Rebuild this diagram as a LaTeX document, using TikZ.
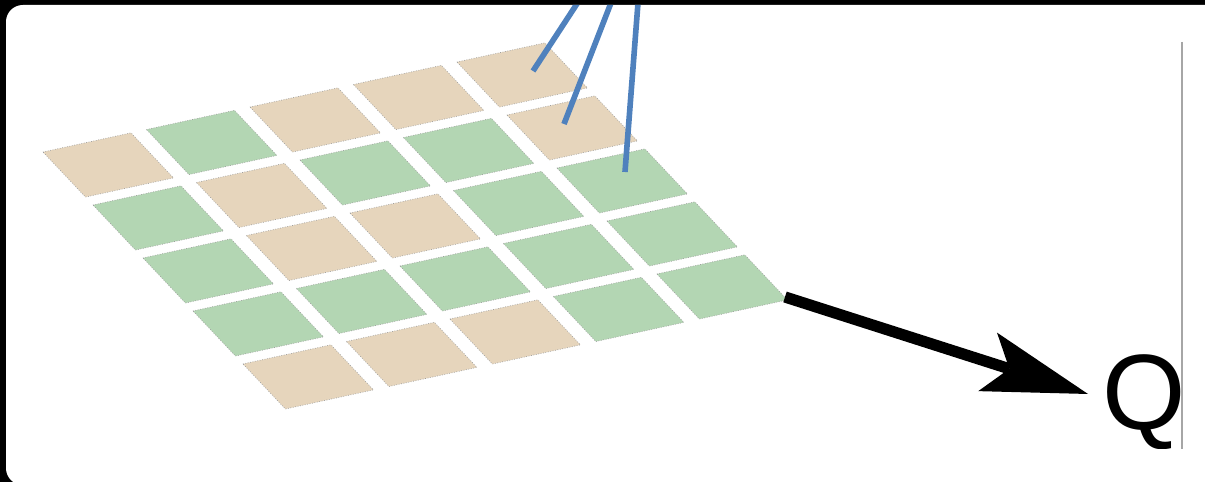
\documentclass[tikz,border=0pt]{standalone}
\usepackage{fontspec}
\setmainfont{Liberation Sans}
\usetikzlibrary{arrows.meta}
\definecolor{tilesand}{RGB}{230, 213, 188}
\definecolor{tilegreen}{RGB}{179, 214, 179}
\definecolor{probeblue}{RGB}{79, 129, 189}

\begin{document}
\begin{tikzpicture}[
    x=0.02cm, y=-0.02cm,
    tile/.style={fill=#1, draw=gray!75, densely dotted, line width=0.4pt},
    probe/.style={probeblue, line width=3.2pt},
    output/.style={line width=6.4pt, -{Stealth[length=60pt, width=35pt, inset=13pt, line width=0pt]}}
]
    \useasboundingbox (0,0) rectangle (1205,482);

    % Frame
    \fill[black] (0,0) rectangle (1205,482);
    \fill[white, rounded corners=9.6pt] (6,5) rectangle (1230,485);

    \begin{scope}
    \clip[rounded corners=9.6pt] (6,5) rectangle (1230,485);

    % Tiles (rows top to bottom)
    \begin{scope}[shift={(43,152)}, x={(2.07cm,0.45cm)}, y={(1cm,-1.06cm)}]
        \foreach \r/\row in {0/{sand,green,sand,sand,sand},
                             1/{green,sand,green,green,sand},
                             2/{green,sand,sand,green,green},
                             3/{green,green,green,green,green},
                             4/{sand,sand,sand,green,green}}
            \foreach \col [count=\c from 0] in \row
                \draw[tile=tile\col] (\c,\r) -- ++(0.85,0) -- ++(0,0.85) -- ++(-0.85,0) -- cycle;
    \end{scope}

    % Coordinates
    \coordinate (probe1_top) at (586,-10);
    \coordinate (probe1_end) at (533,71);
    \coordinate (probe2_top) at (616,-10);
    \coordinate (probe2_end) at (564,124);
    \coordinate (probe3_top) at (639,-10);
    \coordinate (probe3_end) at (625,172);
    \coordinate (grid_corner) at (785,297);
    \coordinate (q_tip) at (1088,394);

    % Probes
    \draw[probe] (probe1_top) -- (probe1_end);
    \draw[probe] (probe2_top) -- (probe2_end);
    \draw[probe] (probe3_top) -- (probe3_end);

    % Output arrow
    \draw[output] (grid_corner) -- (q_tip);

    % Label and edge
    \draw[gray!70, line width=0.6pt] (1182,42) -- (1182,449);
    \begin{scope}
        \clip (1000,300) rectangle (1181.5,449);
        \node[anchor=base west, inner sep=0pt, font=\fontsize{61}{72}\selectfont] (q) at (1102,430) {Q};
    \end{scope}
    \end{scope}

\end{tikzpicture}
\end{document}
